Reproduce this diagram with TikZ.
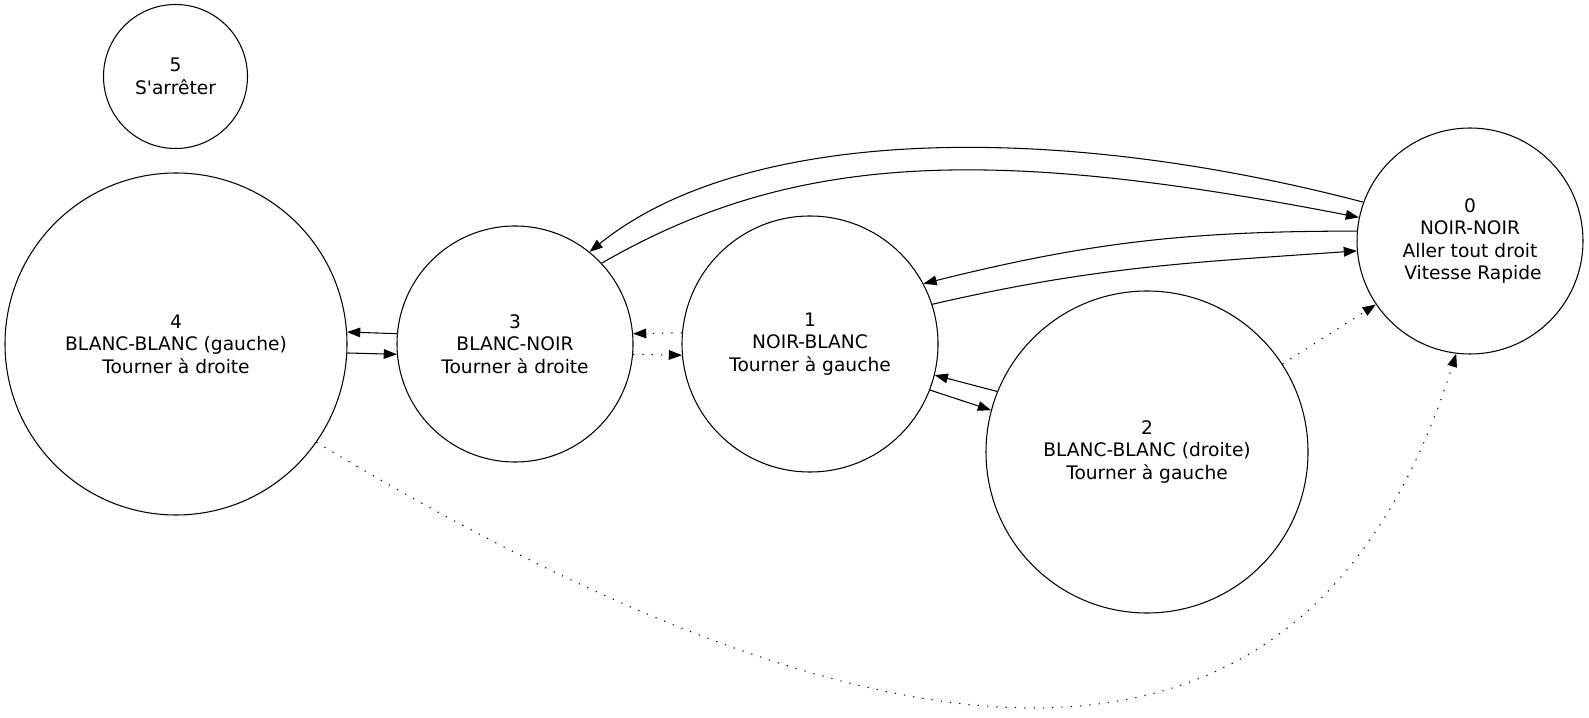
\documentclass[tikz,border=0pt]{standalone}
\usepackage{fontspec}
\setmainfont{DejaVu Sans}
\usetikzlibrary{arrows.meta}

\begin{document}
\begin{tikzpicture}[
    font=\fontsize{10.6}{12.8}\selectfont,
    >={Triangle[length=7.5pt, width=5.5pt]},
    line width=0.6pt,
    state/.style={circle, draw, inner sep=0pt, align=center},
    arrow/.style={->},
    dotted_arrow/.style={->, dash pattern=on 0.7pt off 4.6pt}
]
\useasboundingbox (0,0) rectangle (31.78,14.34);

% States
\node[state, minimum size=2.88cm] (arret) at (3.51,12.81) {5\\S\textquotesingle arrêter};
\node[state, minimum size=6.84cm] (bb_gauche) at (3.52,7.46) {4\\BLANC-BLANC (gauche)\\Tourner à droite};
\node[state, minimum size=4.72cm] (blanc_noir) at (10.30,7.46) {3\\BLANC-NOIR\\Tourner à droite};
\node[state, minimum size=5.12cm] (noir_blanc) at (16.20,7.46) {1\\NOIR-BLANC\\Tourner à gauche};
\node[state, minimum size=6.44cm] (bb_droite) at (22.94,5.30) {2\\BLANC-BLANC (droite)\\Tourner à gauche};
\node[state, minimum size=4.52cm] (noir_noir) at (29.40,9.52) {0\\NOIR-NOIR\\Aller tout droit\\~Vitesse Rapide};

% Transitions
\draw[arrow] (blanc_noir.175) -- (bb_gauche.4);
\draw[arrow] (bb_gauche.-3) -- (blanc_noir.185);

\draw[dotted_arrow] (noir_blanc.175) -- (blanc_noir.5);
\draw[dotted_arrow] (blanc_noir.-5) -- (noir_blanc.185);

\draw[arrow] (bb_droite.158) -- (noir_blanc.-14);
\draw[arrow] (noir_blanc.-21) -- (bb_droite.165);

\draw[dotted_arrow] (bb_droite.33) -- (noir_noir.214);
\draw[dotted_arrow] (bb_gauche.-35) .. controls +(-31:16) and +(252.5:8.4) .. (noir_noir.-97);

\draw[arrow] (noir_noir.160) .. controls +(165.3:6.4) and +(39:4) .. (blanc_noir.51);
\draw[arrow] (blanc_noir.43) .. controls +(30:4.4) and +(169:7.6) .. (noir_noir.168);

\draw[arrow] (noir_noir.175) to[out=180, in=14] (noir_blanc.28);
\draw[arrow] (noir_blanc.18) to[out=13, in=184] (noir_noir.185);

\end{tikzpicture}
\end{document}
